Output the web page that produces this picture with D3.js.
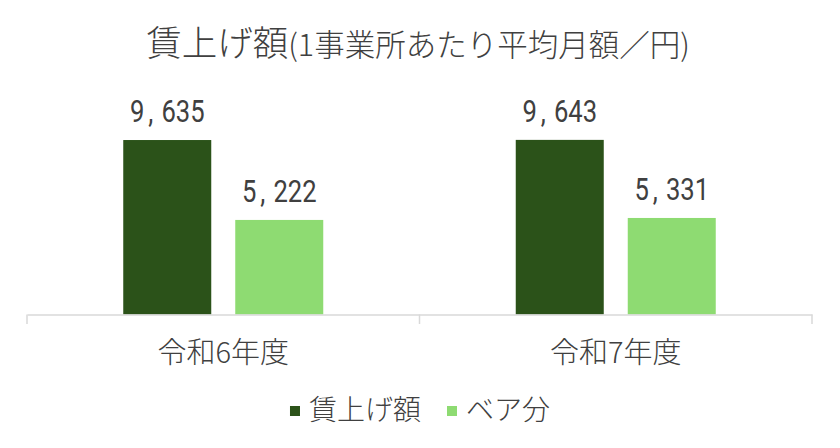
<!DOCTYPE html>
<html>
<head>
<meta charset="utf-8">
<style>
 body { margin: 0; background: #fff; }
 svg { font-family: "Noto Sans CJK JP", "Noto Sans", sans-serif; font-weight: 300; }
 .num { font-family: Roboto, "Noto Sans", sans-serif; font-weight: 400; }
</style>
</head>
<body>
<svg width="840" height="448"></svg>
<script src="https://cdn.jsdelivr.net/npm/d3@7"></script>
<script>
// data
var categories = ["令和6年度", "令和7年度"];
var seriesNames = ["賃上げ額", "ベア分"];
var wageRaise = [9635, 9643];
var baseUp = [5222, 5331];
var seriesColors = ["#2b5219", "#8edb72"];

var titleMain = "賃上げ額";
var titleSub = "(1事業所あたり平均月額／円)";

var rows = categories.map(function(c, i){
    return {cat: c, values: [wageRaise[i], baseUp[i]]};
});

var svg = d3.select("svg");
var textColor = "#404040";

var x0 = d3.scaleBand()
    .domain(categories)
    .range([27, 812]);

// bars 88px wide, 24px apart, centred in each band
var pIn = 24 / 112;
var pOut = (x0.bandwidth() / 112 - 2 + pIn) / 2;
var x1 = d3.scaleBand()
    .domain(seriesNames)
    .range([0, x0.bandwidth()])
    .paddingInner(pIn)
    .paddingOuter(pOut);

var y = d3.scaleLinear()
    .domain([0, 12000])
    .range([314.5, 97.2]);

// bars
var groups = svg.selectAll("g.grp")
    .data(rows)
    .enter().append("g")
    .attr("class", "grp")
    .attr("transform", function(d){ return "translate(" + x0(d.cat) + ",0)"; });

groups.selectAll("rect")
    .data(function(d){ return d.values.map(function(v, i){ return {s: seriesNames[i], v: v, i: i}; }); })
    .enter().append("rect")
    .attr("x", function(d){ return x1(d.s); })
    .attr("y", function(d){ return y(d.v); })
    .attr("width", x1.bandwidth())
    .attr("height", function(d){ return y(0) - y(d.v); })
    .style("fill", function(d){ return seriesColors[d.i]; });

// value labels (narrow digits, wide comma)
var labels = groups.selectAll("text.num")
    .data(function(d){ return d.values.map(function(v, i){ return {s: seriesNames[i], v: v}; }); })
    .enter().append("text")
    .attr("class", "num")
    .attr("transform", function(d){
        return "translate(" + (x1(d.s) + x1.bandwidth() / 2) + "," + (y(d.v) - 18) + ") scale(0.8,1)";
    })
    .attr("text-anchor", "middle")
    .style("font-size", "32px")
    .style("fill", textColor);

labels.each(function(d){
    var parts = d3.format(",")(d.v).split(",");
    var t = d3.select(this);
    t.append("tspan").text(parts[0]);
    t.append("tspan").attr("dx", 5).text(",");
    t.append("tspan").attr("dx", 10).text(parts[1]);
});

// axis
var xAxis = d3.axisBottom(x0).tickSize(0).tickFormat("");
var axisG = svg.append("g")
    .attr("transform", "translate(0,314.5)")
    .call(xAxis);
axisG.select(".domain").attr("stroke", "#d9d9d9").attr("stroke-width", 1.5);
axisG.selectAll(".tick").remove();

var edges = [x0.range()[0]].concat(categories.map(function(c){ return x0(c) + x0.bandwidth(); }));
svg.selectAll("line.edge")
    .data(edges)
    .enter().append("line")
    .attr("class", "edge")
    .attr("x1", function(d){ return d; })
    .attr("x2", function(d){ return d; })
    .attr("y1", 314.5)
    .attr("y2", 324)
    .attr("stroke", "#d9d9d9")
    .attr("stroke-width", 1.5);

svg.selectAll("text.cat")
    .data(categories)
    .enter().append("text")
    .attr("class", "cat")
    .attr("x", function(d){ return x0(d) + x0.bandwidth() / 2; })
    .attr("y", 363)
    .attr("text-anchor", "middle")
    .style("font-size", "29px")
    .style("fill", textColor)
    .text(function(d){ return d; });

// title
var title = svg.append("text")
    .attr("x", 418)
    .attr("y", 56)
    .attr("text-anchor", "middle")
    .style("fill", textColor);
title.append("tspan").style("font-size", "35.5px").text(titleMain);
title.append("tspan").style("font-size", "30.5px").text(titleSub);

// legend
var legend = svg.append("g");
var lx = 0;
seriesNames.forEach(function(name, i){
    legend.append("rect")
        .attr("x", lx)
        .attr("y", 406)
        .attr("width", 10)
        .attr("height", 10)
        .style("fill", seriesColors[i]);
    var t = legend.append("text")
        .attr("x", lx + 19)
        .attr("y", 420)
        .style("font-size", "28px")
        .style("fill", textColor)
        .text(name);
    lx += 19 + t.node().getComputedTextLength() + 26;
});
var lw = lx - 26;
legend.attr("transform", "translate(" + (420 - lw / 2) + ",0)");
</script>
</body>
</html>
